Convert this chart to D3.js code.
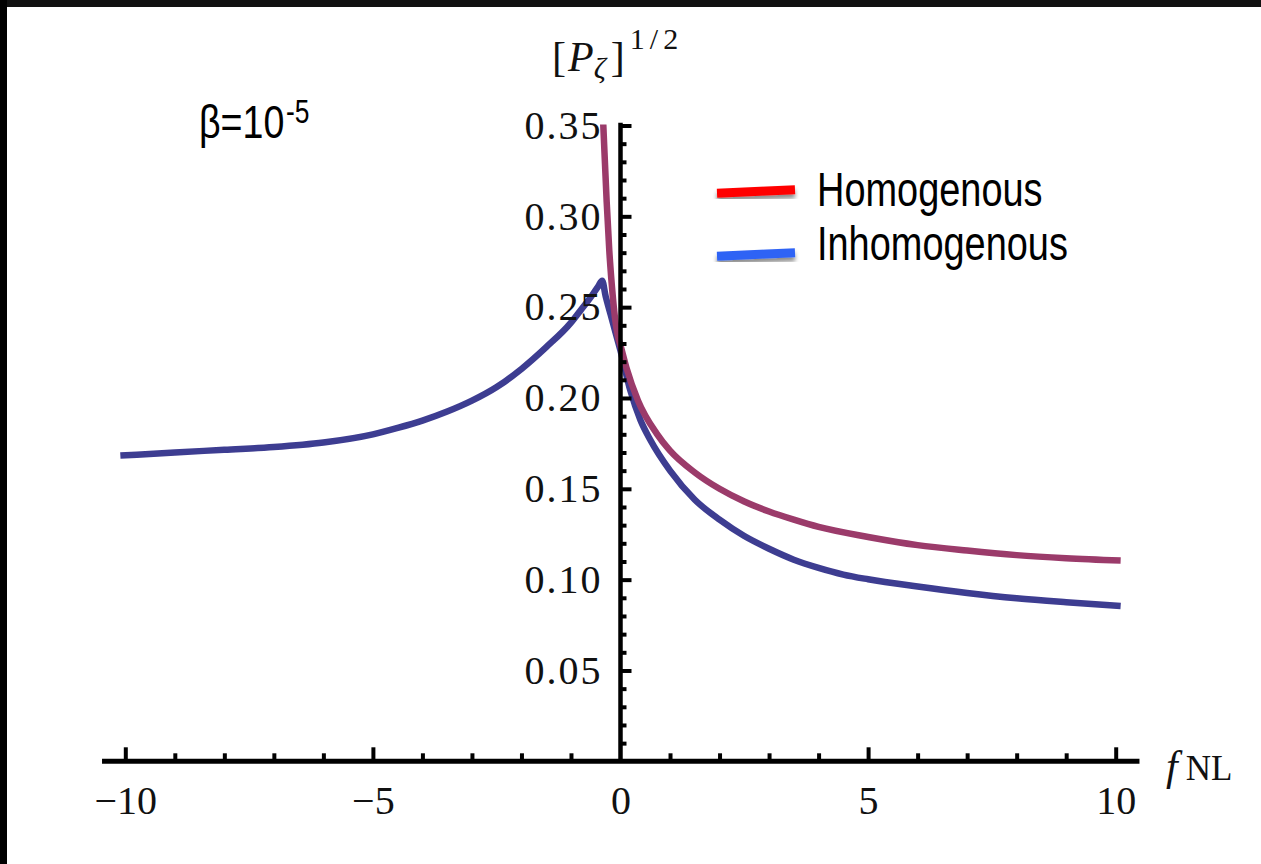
<!DOCTYPE html>
<html>
<head>
<meta charset="utf-8">
<script src="https://cdn.jsdelivr.net/npm/d3@7"></script>
<style>
  body { margin: 0; background: #fff; }
  svg { display: block; }
</style>
</head>
<body>
<svg id="chart" width="1261" height="864"></svg>
<script>
// values: f_NL and [P_zeta]^(1/2)
let homoF = [-0.36, -0.347, -0.279, -0.226, -0.178, -0.111, -0.061, 0.0, 0.121, 0.354, 0.731, 1.0, 1.5, 2.0, 2.5, 3.0, 3.5, 4.0, 5.0, 6.0, 7.0, 8.0, 9.0, 10.1];
let homoP = [0.358, 0.350, 0.308, 0.281, 0.263, 0.244, 0.235, 0.229, 0.2166, 0.1985, 0.1804, 0.171, 0.159, 0.150, 0.143, 0.1375, 0.133, 0.129, 0.1235, 0.119, 0.116, 0.1135, 0.1118, 0.1105];

let inhomoF = [-10.1, -9, -8, -7, -6, -5, -4.5, -4, -3.5, -3, -2.5, -2, -1.5, -1.0, -0.8, -0.6, -0.45, -0.37, -0.3, -0.2, -0.1, 0.0, 0.2, 0.4, 0.6, 1.0, 1.5, 2.0, 2.5, 3.0, 3.5, 4.0, 4.5, 5.0, 6.0, 7.0, 8.0, 9.0, 10.1];
let inhomoP = [0.1683, 0.170, 0.1715, 0.173, 0.1755, 0.180, 0.1835, 0.1875, 0.1925, 0.1985, 0.206, 0.216, 0.228, 0.2415, 0.2485, 0.2555, 0.2615, 0.2645, 0.256, 0.246, 0.236, 0.226, 0.204, 0.188, 0.177, 0.160, 0.144, 0.133, 0.124, 0.117, 0.111, 0.1065, 0.1028, 0.1002, 0.0962, 0.0927, 0.0898, 0.0876, 0.0855];

let seriesNames = ["Homogenous", "Inhomogenous"];
let xTicks = [-10, -5, 0, 5, 10];
let xTickLabels = ["\u221210", "\u22125", "0", "5", "10"];
let yTicks = [0.05, 0.10, 0.15, 0.20, 0.25, 0.30, 0.35];
let yTickLabels = ["0.05", "0.10", "0.15", "0.20", "0.25", "0.30", "0.35"];

let svg = d3.select("#chart");

// black frame edges from the screenshot
svg.append("rect").attr("x", 0).attr("y", 0).attr("width", 1261).attr("height", 7).attr("fill", "#111");
svg.append("rect").attr("x", 0).attr("y", 0).attr("width", 7).attr("height", 864).attr("fill", "#000");

let defs = svg.append("defs");
defs.append("filter").attr("id", "soft")
    .append("feGaussianBlur").attr("stdDeviation", 0.7);
defs.append("filter").attr("id", "shadow")
    .attr("x", "-20%").attr("y", "-150%").attr("width", "140%").attr("height", "400%")
    .append("feDropShadow").attr("dx", 0).attr("dy", 4).attr("stdDeviation", 2)
    .attr("flood-color", "#000").attr("flood-opacity", 0.45);

let x = d3.scaleLinear().domain([-10, 10]).range([125.3, 1115.7]);
let y = d3.scaleLinear().domain([0, 0.35]).range([761.3, 125.5]);

defs.append("clipPath").attr("id", "plotClip")
    .append("rect")
    .attr("x", x(-10.5)).attr("y", y(0.3505))
    .attr("width", x(10.5) - x(-10.5)).attr("height", y(0) - y(0.3505));

// curves
let line = d3.line()
    .x(d => x(d[0]))
    .y(d => y(d[1]))
    .curve(d3.curveMonotoneX);

let curves = svg.append("g").attr("clip-path", "url(#plotClip)");
curves.append("path")
    .datum(d3.zip(inhomoF, inhomoP))
    .attr("d", line)
    .attr("fill", "none")
    .attr("stroke", "#3e3c91")
    .attr("stroke-width", 6.5)
    .attr("filter", "url(#soft)");
curves.append("path")
    .datum(d3.zip(homoF, homoP))
    .attr("d", line)
    .attr("fill", "none")
    .attr("stroke", "#9b3a6b")
    .attr("stroke-width", 6.5)
    .attr("filter", "url(#soft)");

// x axis: ticks pointing up, labels below
let xMinor = d3.range(-10, 11).filter(v => v !== 0 && v % 5 !== 0);
let xAxisG = svg.append("g").attr("transform", "translate(0," + y(0) + ")");
xAxisG.append("g").call(d3.axisTop(x).tickValues(xMinor).tickSize(8).tickFormat(""));
xAxisG.append("g").call(d3.axisTop(x).tickValues(xTicks.filter(v => v !== 0)).tickSize(14).tickFormat(""));
xAxisG.append("g").call(d3.axisBottom(x).tickValues(xTicks).tickSize(0).tickPadding(24)
    .tickFormat((d, i) => xTickLabels[i]));
xAxisG.selectAll(".domain").remove();
xAxisG.selectAll(".tick line").attr("stroke", "#000").attr("stroke-width", 4);
xAxisG.selectAll(".tick text")
    .style("font-family", "'Liberation Serif', serif")
    .style("font-size", "40px")
    .attr("fill", "#111");
xAxisG.append("line")
    .attr("x1", x(-10.47)).attr("x2", x(10.48))
    .attr("y1", 0).attr("y2", 0)
    .attr("stroke", "#000").attr("stroke-width", 5);

// y axis: ticks pointing right, labels left
let yMinor = d3.range(1, 35).map(v => v / 100).filter(v => Math.round(v * 100) % 5 !== 0);
let yAxisG = svg.append("g").attr("transform", "translate(" + x(0) + ",0)");
yAxisG.append("g").call(d3.axisRight(y).tickValues(yMinor).tickSize(6).tickFormat(""));
yAxisG.append("g").call(d3.axisRight(y).tickValues(yTicks).tickSize(11).tickFormat(""));
yAxisG.append("g").call(d3.axisLeft(y).tickValues(yTicks).tickSize(0).tickPadding(18)
    .tickFormat((d, i) => yTickLabels[i]));
yAxisG.selectAll(".domain").remove();
yAxisG.selectAll(".tick line").attr("stroke", "#000").attr("stroke-width", 4);
yAxisG.selectAll(".tick text")
    .style("font-family", "'Liberation Serif', serif")
    .style("font-size", "40px")
    .style("letter-spacing", "2px")
    .attr("fill", "#111");
yAxisG.append("line")
    .attr("x1", 0).attr("x2", 0)
    .attr("y1", y(0)).attr("y2", y(0.3515))
    .attr("stroke", "#000").attr("stroke-width", 4.5);

// axis labels
let xlab = svg.append("text")
    .attr("x", 1166).attr("y", 780)
    .style("font-family", "'Liberation Serif', serif")
    .attr("fill", "#111");
xlab.append("tspan").style("font-style", "italic").style("font-size", "42px").text("f");
xlab.append("tspan").style("font-size", "35px").attr("dx", 8).text("NL");

let ylab = svg.append("text")
    .attr("x", 552).attr("y", 71)
    .style("font-family", "'Liberation Serif', serif")
    .style("font-size", "42px")
    .attr("fill", "#111");
ylab.append("tspan").text("[");
ylab.append("tspan").style("font-style", "italic").attr("dx", 2).text("P");
ylab.append("tspan").style("font-style", "italic").style("font-size", "30px").attr("dy", 7).text("\u03B6");
ylab.append("tspan").attr("dy", -7).attr("dx", 5).text("]");
ylab.append("tspan").style("font-size", "30px").style("letter-spacing", "5px")
    .attr("dy", -22).attr("dx", 5).text("1/2");

// beta annotation (condensed sans)
let beta = svg.append("text")
    .attr("transform", "translate(199,138) scale(0.8,1)")
    .style("font-family", "'Liberation Sans', Arial, sans-serif")
    .style("font-size", "47px")
    .attr("fill", "#000");
beta.append("tspan").text("\u03B2=10");
beta.append("tspan").style("font-size", "33px").attr("dy", -15).attr("dx", 2).text("-5");

// legend
let legendColors = ["#ff0000", "#2f63f5"];
let legendLineY = [191.5, 254.5];
let legendTextY = [206, 260];
let legend = svg.append("g");
seriesNames.forEach((name, i) => {
    legend.append("line")
        .attr("x1", 717).attr("y1", legendLineY[i] + 1.7)
        .attr("x2", 795).attr("y2", legendLineY[i] - 1.7)
        .attr("stroke", legendColors[i])
        .attr("stroke-width", 9)
        .attr("filter", "url(#shadow)");
    legend.append("text")
        .attr("transform", "translate(817," + legendTextY[i] + ") scale(0.79,1)")
        .style("font-family", "'Liberation Sans', Arial, sans-serif")
        .style("font-size", "48px")
        .attr("fill", "#000")
        .text(name);
});
</script>
</body>
</html>
